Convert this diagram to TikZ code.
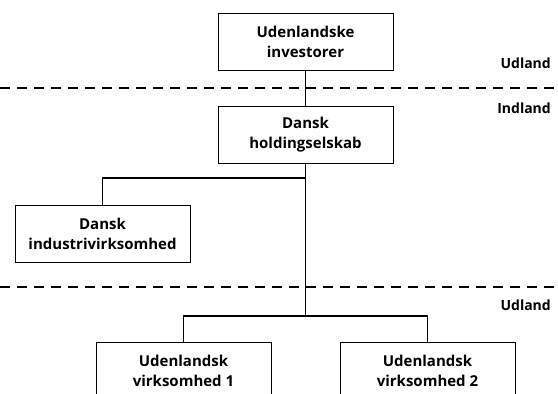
\documentclass[tikz,border=0pt]{standalone}
\usepackage{fontspec}
\setmainfont{Open Sans}
\begin{document}
\begin{tikzpicture}[x=1pt,y=-1pt,
  box/.style={draw=black, line width=0.8pt, fill=white, minimum width=175pt, minimum height=57pt, align=center, inner sep=0pt, font=\bfseries\fontsize{15}{20}\selectfont},
  conn/.style={line width=1.8pt},
  sep/.style={line width=1.8pt, dash pattern=on 10pt off 7pt},
  lbl/.style={font=\bfseries\fontsize{14}{15}\selectfont, anchor=east, inner sep=0pt}]
\useasboundingbox (0,0) rectangle (558,394);
\clip (0,0) rectangle (558,394);
\node[box] (inv) at (305.5,41.5) {Udenlandske\\investorer};
\node[box] (hold) at (305.5,135) {Dansk\\holdingselskab};
\node[box] (ind) at (102.5,233.5) {Dansk\\industrivirksomhed};
\node[box] (v1) at (183.5,370.5) {Udenlandsk\\virksomhed 1};
\node[box] (v2) at (427.5,370.5) {Udenlandsk\\virksomhed 2};
\coordinate (d1l) at (0,88);
\coordinate (d1r) at (558,88);
\coordinate (d2l) at (0,287);
\coordinate (d2r) at (558,287);
\coordinate (t1) at (305.5,178);
\coordinate (t2) at (305.5,316);
\draw[sep] (d1l) -- (d1r);
\draw[sep] (d2l) -- (d2r);
\draw[conn] (inv.south) -- (hold.north);
\draw[conn] (hold.south) -- (t2);
\draw[conn] (t1) -| (ind.north);
\draw[conn] (v1.north) |- (t2) -| (v2.north);
\node[lbl] (u1) at (551,63) {Udland};
\node[lbl] (i1) at (551,108) {Indland};
\node[lbl] (u2) at (551,305) {Udland};
\end{tikzpicture}
\end{document}
